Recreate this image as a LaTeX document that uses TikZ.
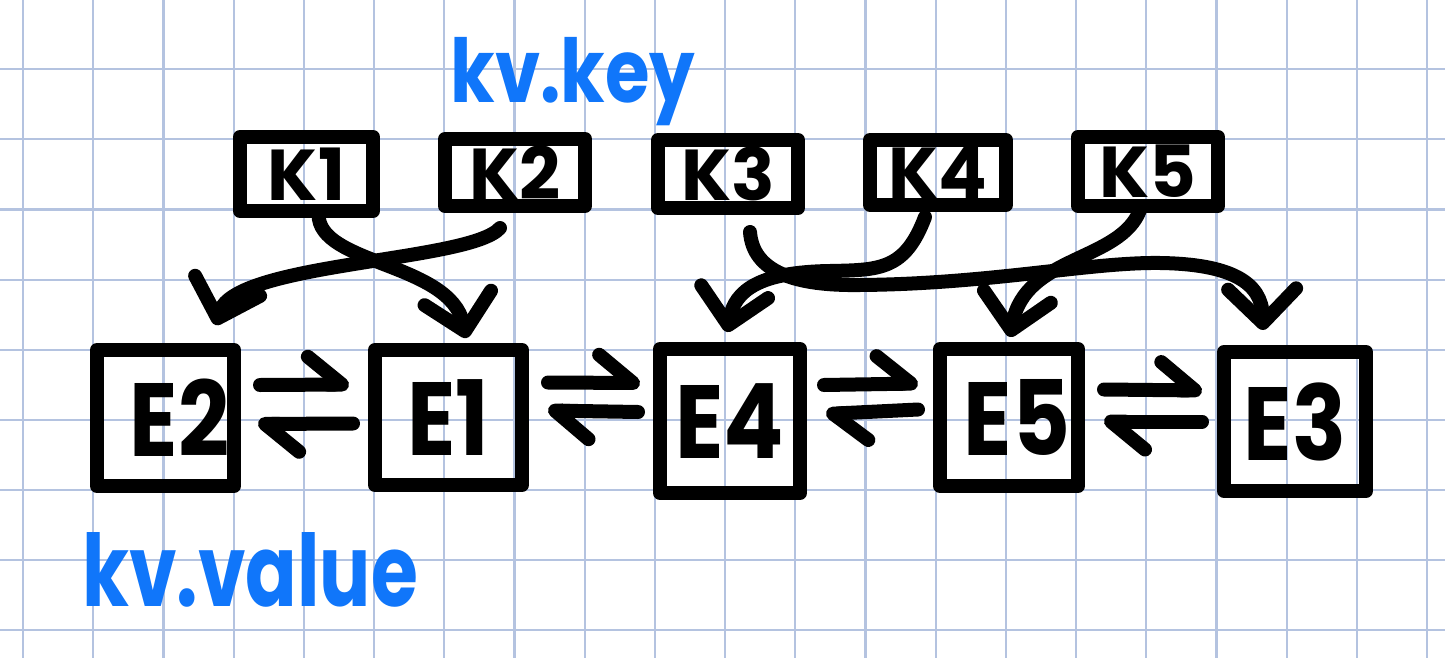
\documentclass[tikz,border=0pt]{standalone}
\usepackage{fontspec}
\usepackage{graphicx}
\setmainfont{Poppins}
\usetikzlibrary{arrows.meta}
\definecolor{gridc}{RGB}{180,195,224}
\definecolor{inkblue}{RGB}{16,118,250}
\begin{document}
\begin{tikzpicture}[x=0.5pt,y=-0.5pt,
  ink/.style={line width=7pt,line cap=round,line join=round},
  gridline/.style={draw=gridc,line width=1.1pt},
  kbox/.style={draw,ink,inner sep=0pt,outer sep=0pt,font=\fontsize{36}{36}\selectfont\bfseries},
  ebox/.style={draw,ink,inner sep=0pt,outer sep=0pt,font=\fontsize{52}{52}\selectfont\bfseries},
  harp/.style={ink,-{Straight Barb[harpoon,round,length=17pt,width=28pt]}},
  link/.style={ink,-{Straight Barb[round,length=17pt,width=34pt]}},
  lbl/.style={text=inkblue,inner sep=0pt,anchor=base west}]
\useasboundingbox (0,0) rectangle (1445,658);
\fill[white] (0,0) rectangle (1445,658);
\foreach \i in {0,...,20} \draw[gridline] ({23+70.2*\i},0) -- ({23+70.2*\i},658);
\foreach \j in {1,...,9} \draw[gridline] (0,{-1+70.15*\j}) -- (1445,{-1+70.15*\j});

% labels
\node[lbl,font=\fontsize{44}{44}\selectfont\bfseries] (kvkey) at (450,103) {\scalebox{0.82}[1]{kv.key}};
\node[lbl,font=\fontsize{50}{50}\selectfont\bfseries] (kvvalue) at (82,606) {\scalebox{0.76}[1]{kv.value}};

% key boxes
\node[kbox,minimum width=66.5pt,minimum height=37pt] (K1) at (306.5,174) {K1};
\node[kbox,minimum width=70pt,minimum height=33.5pt] (K2) at (515,172.5) {K2};
\node[kbox,minimum width=70pt,minimum height=34pt] (K3) at (728,174) {K3};
\node[kbox,minimum width=68pt,minimum height=32.5pt] (K4) at (938,172.5) {K4};
\node[kbox,minimum width=70pt,minimum height=34.5pt] (K5) at (1148,171.5) {K5};

% entry boxes
\node[ebox,minimum width=68.5pt,minimum height=68pt] (E2) at (165.5,418) {\hspace*{14pt}\scalebox{0.86}[1]{E2}};
\node[ebox,minimum width=73.5pt,minimum height=67.5pt] (E1) at (448.5,417.5) {\scalebox{0.86}[1]{E1}};
\node[ebox,minimum width=70pt,minimum height=72pt] (E4) at (730,421) {\scalebox{0.86}[1]{E4}};
\node[ebox,minimum width=69pt,minimum height=68.5pt] (E5) at (1009,417.5) {\hspace*{8pt}\scalebox{0.86}[1]{E5}};
\node[ebox,minimum width=71pt,minimum height=69.5pt] (E3) at (1295,421.5) {\scalebox{0.86}[1]{E3}};

% doubly linked list harpoons
\draw[harp] ([shift={(26,-33)}]E2.east) -- ([shift={(-26,-33)}]E1.west);
\draw[harp] ([shift={(-22,6)}]E1.west) -- ([shift={(24,6)}]E2.east);
\draw[harp] ([shift={(26,-35)}]E1.east) -- ([shift={(-20,-38)}]E4.west);
\draw[harp] ([shift={(-22,-9)}]E4.west) -- ([shift={(26,-7)}]E1.east);
\draw[harp] ([shift={(24,-36)}]E4.east) -- ([shift={(-22,-34)}]E5.west);
\draw[harp] ([shift={(-22,-8)}]E5.west) -- ([shift={(26,-7)}]E4.east);
\draw[harp] ([shift={(26,-28)}]E5.east) -- ([shift={(-22,-31)}]E3.west);
\draw[harp] ([shift={(-22,0)}]E3.west) -- ([shift={(26,4)}]E5.east);

% key -> entry links
\draw[link] ([shift={(12,3)}]K1.south) .. controls (318,265) and (450,262) .. ([shift={(18,-12)}]E1.north);
\draw[link] ([shift={(-15,22)}]K2.south) .. controls (470,262) and (235,262) .. ([shift={(50,-25)}]E2.north);
\draw[link] ([shift={(22,24)}]K3.south) .. controls (753,272) and (795,286) .. (860,285)
  .. controls (990,284) and (1090,262) .. (1160,263)
  .. controls (1230,264) and (1262,282) .. ([shift={(-32,-22)}]E3.north);
\draw[link] ([shift={(-13,12)}]K4.south) .. controls (905,270) and (880,270) .. (830,271)
  .. controls (760,272) and (735,290) .. ([shift={(-3,-17)}]E4.north);
\draw[link] ([shift={(-8,4)}]K5.south) .. controls (1120,262) and (1025,255) .. ([shift={(1,-12)}]E5.north);
\end{tikzpicture}
\end{document}
